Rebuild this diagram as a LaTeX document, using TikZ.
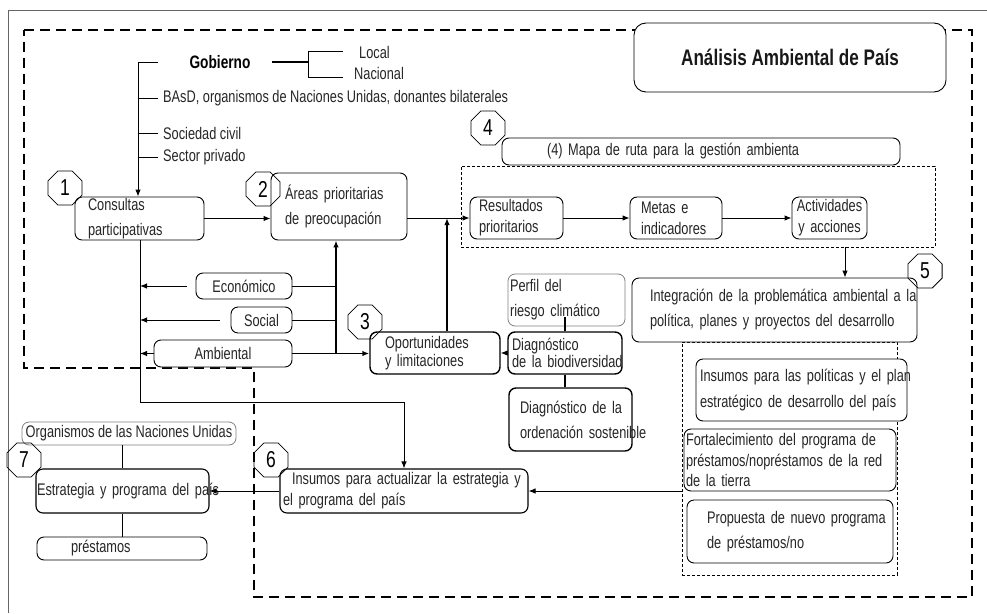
\documentclass[tikz,border=0pt]{standalone}
\usepackage{fontspec}
\setmainfont[FakeStretch=0.76]{Liberation Sans}
\usetikzlibrary{arrows.meta,shapes.geometric,calc}
\newcommand\fb[1]{\fontsize{16.8pt}{#1}\selectfont}
\begin{document}
\begin{tikzpicture}[x=1pt,y=-1pt,
  box/.style={draw=black, fill=white, line width=0.9pt, rounded corners=7pt, inner ysep=0pt, align=left, text=black!85},
  gbox/.style={box, draw=black!50, line width=0.8pt},
  tbox/.style={box, line width=1.4pt},
  oct/.style={regular polygon, regular polygon sides=8, draw, line width=0.8pt, minimum size=37pt, inner sep=0pt, font=\fontsize{23pt}{23pt}\selectfont},
  lbl/.style={inner sep=0pt, anchor=west, text=black!85, font=\fb{18pt}},
  arr/.style={line width=0.9pt, -{Latex[length=7pt,width=5.5pt]}},
  tarr/.style={line width=1.4pt, -{Latex[length=7pt,width=5.5pt]}},
  ln/.style={line width=0.9pt},
  tln/.style={line width=1.4pt},
  bigdash/.style={line width=2.8pt, dash pattern=on 10pt off 6pt},
  smalldash/.style={line width=0.8pt, dash pattern=on 3pt off 2pt},
]
\useasboundingbox (0,0) rectangle (987,613);
% outer thin frame
\draw[black!60, line width=1pt] (8,613) -- (8,10) -- (987,10);
% big dashed region
\draw[bigdash] (24,30) -- (972,30) -- (972,597) -- (254,597) -- (254,368) -- (24,368) -- cycle;

% title
\node[draw, fill=white, line width=0.9pt, rounded corners=12pt, minimum width=312pt, minimum height=69pt, font=\fontsize{22.5pt}{24pt}\selectfont\bfseries, text=black!90] (title) at (790,57.5) {Análisis Ambiental de País};

% dashed groups
\node[smalldash, draw, minimum width=474pt, minimum height=81pt, inner sep=0pt] (grp) at (698,206.5) {};
\node[smalldash, draw, minimum width=215pt, minimum height=233pt, inner sep=0pt] (rbox) at (789.5,458.5) {};

% stakeholders
\node[inner sep=0pt, font=\fontsize{18pt}{20pt}\selectfont\bfseries] (gob) at (220,62) {Gobierno};
\node[lbl] (loc) at (359,52) {Local};
\node[lbl] (nac) at (354,73) {Nacional};
\coordinate (g1) at (272,62);
\coordinate (g2) at (308,62);
\coordinate (g3) at (343,51);
\coordinate (g4) at (343,77);
\draw[tln] (g1) -- (g2);
\draw[ln] (g3) -- (g3 -| g2) -- (g4 -| g2) -- (g4);
\node[lbl] (bas) at (163,98) {BAsD, organismos de Naciones Unidas, donantes bilaterales};
\node[lbl] (soc) at (163,133) {Sociedad civil};
\node[lbl] (sec) at (163,157) {Sector privado};
\coordinate (s0) at (158,62);
\coordinate (s1) at (138,62);

% boxes
\node[box, minimum width=129pt, minimum height=43pt, text width=103pt, inner xsep=13pt, font=\fb{25pt}] (cons) at (139.5,218.5) {\mbox{Consultas}\\\mbox{participativas}};
\node[box, minimum width=136pt, minimum height=67pt, text width=108pt, inner xsep=14pt, font=\fb{25pt}] (areas) at (339,206.5) {\mbox{Áreas prioritarias}\\\mbox{de preocupación}};
\node[box, minimum width=93pt, minimum height=42pt, text width=75pt, inner xsep=9pt, font=\fb{21pt}] (res) at (516.5,218) {\mbox{Resultados}\\\mbox{prioritarios}};
\node[box, minimum width=92pt, minimum height=42pt, text width=70pt, inner xsep=11pt, font=\fb{21pt}] (metas) at (676,218) {\mbox{Metas e}\\\mbox{indicadores}};
\node[box, minimum width=75pt, minimum height=42pt, text width=67pt, inner xsep=4pt, align=center, font=\fb{21pt}] (act) at (829.5,218) {\mbox{Actividades}\\\mbox{y acciones}};
\node[box, minimum width=398pt, minimum height=27pt, text width=308pt, inner xsep=45pt, font=\fb{20pt}] (mapa) at (701,151.5) {\mbox{(4) Mapa de ruta para la gestión ambienta}};
\node[box, minimum width=285pt, minimum height=64pt, text width=249pt, inner xsep=18pt, font=\fb{25pt}] (integ) at (774.5,310) {\mbox{Integración de la problemática ambiental a la}\\\mbox{política, planes y proyectos del desarrollo}};
\node[gbox, minimum width=117pt, minimum height=52pt, text width=113pt, inner xsep=2pt, font=\fb{25pt}] (perfil) at (566.5,300) {\mbox{Perfil del}\\\mbox{riesgo climático}};
\node[tbox, minimum width=114pt, minimum height=42pt, text width=106pt, inner xsep=4pt, font=\fb{17pt}] (bio) at (565,353) {\mbox{Diagnóstico}\\\mbox{de la biodiversidad}};
\node[tbox, minimum width=123pt, minimum height=63pt, text width=101pt, inner xsep=11pt, font=\fb{25pt}] (ord) at (570.5,419.5) {\mbox{Diagnóstico de la}\\\mbox{ordenación sostenible}};
\node[tbox, minimum width=130pt, minimum height=42pt, text width=100pt, inner xsep=15pt, font=\fb{18pt}] (opp) at (435,353) {\mbox{Oportunidades}\\\mbox{y limitaciones}};
\node[box, minimum width=96pt, minimum height=26pt, align=center, font=\fb{18pt}] (eco) at (244,286) {Económico};
\node[box, minimum width=61pt, minimum height=26pt, align=center, font=\fb{18pt}] (social) at (261.5,320) {Social};
\node[box, minimum width=138pt, minimum height=27pt, align=center, font=\fb{18pt}] (amb) at (223,353.5) {Ambiental};
\node[box, line width=1.1pt, minimum width=248pt, minimum height=44pt, text width=242pt, inner xsep=3pt, font=\fb{21pt}] (ins6) at (404,491) {\mbox{\hspace*{9pt}Insumos para actualizar la estrategia y}\\\mbox{el programa del país}};
\node[box, line width=1.1pt, minimum width=173pt, minimum height=44pt, text width=171pt, inner xsep=1pt, font=\fb{20pt}] (estr) at (122.5,491) {\mbox{Estrategia y programa del país}};
\node[gbox, minimum width=214pt, minimum height=23pt, align=center, font=\fb{18pt}] (org) at (129,433.5) {Organismos de las Naciones Unidas};
\node[box, minimum width=170pt, minimum height=23pt, text width=102pt, inner xsep=34pt, font=\fb{18pt}] (prest) at (122,548.5) {préstamos};
\node[box, minimum width=211pt, minimum height=62pt, text width=203pt, inner xsep=4pt, font=\fb{26pt}] (insp) at (801.5,390) {\mbox{Insumos para las políticas y el plan}\\\mbox{estratégico de desarrollo del país}};
\node[box, minimum width=212pt, minimum height=62pt, text width=208pt, inner xsep=2pt, font=\fb{20.5pt}] (fort) at (790,460) {\mbox{Fortalecimiento del programa de}\\\mbox{préstamos/nopréstamos de la red}\\\mbox{de la tierra}};
\node[box, minimum width=206pt, minimum height=63pt, text width=166pt, inner xsep=20pt, font=\fb{25pt}] (prop) at (790,531.5) {\mbox{Propuesta de nuevo programa}\\\mbox{de préstamos/no}};

% octagons
\node[oct] (o1) at (65,188) {1};
\node[oct] (o2) at (263,189) {2};
\node[oct] (o3) at (365,322) {3};
\node[oct] (o4) at (488,128) {4};
\node[oct] (o5) at (925,271) {5};
\node[oct] (o6) at (271,460) {6};
\node[oct] (o7) at (24,460) {7};

% stakeholder spine
\draw[arr] (s0) -- (s1) -- (cons.north -| s1);
\draw[ln] (s1 |- bas.west) -- ++(20,0);
\draw[ln] (s1 |- soc.west) -- ++(20,0);
\draw[ln] (s1 |- sec.west) -- ++(20,0);

% main flow
\draw[arr] (cons.east) -- (areas.west |- cons.east);
\draw[arr] (areas.east |- res.west) -- (res.west);
\draw[arr] (res.east) -- (metas.west);
\draw[arr] (metas.east) -- (act.west);
\coordinate (gx) at (845,0);
\draw[arr] (grp.south -| gx) -- (integ.north -| gx);

% dimensions
\coordinate (vx) at (336,0);
\coordinate (sp1) at (140,402);
\coordinate (sp2) at (404,402);
\draw[ln] (eco.east) -- (eco.east -| vx);
\draw[ln] (social.east) -- (social.east -| vx);
\draw[tarr] (amb.east) -- (opp.west |- amb.east);
\draw[tarr] (vx |- amb.east) -- (vx |- areas.south);
\draw[arr] ($(eco.west)+(-9,0)$) -- (eco.west -| sp1);
\draw[arr] ($(social.west)+(-11,0)$) -- (social.west -| sp1);
\draw[arr] (amb.west) -- (amb.west -| sp1);
\draw[arr] (sp1 |- cons.south) -- (sp1) -- (sp2) -- (ins6.north);

% opportunities
\coordinate (ox) at (447,0);
\draw[tarr] (opp.north -| ox) -- (ox |- res.west);
\draw[arr] (bio.west) -- (opp.east);
\draw[tln] (bio.north) -- ++(0,-14);
\draw[tln] (bio.south) -- (bio.south |- ord.north);

% bottom flows
\draw[arr] (rbox.west |- ins6.east) -- (ins6.east);
\draw[arr] (ins6.west) -- (estr.east);
\draw[ln] (estr.north |- org.south) -- (estr.north);
\draw[ln] (estr.south) -- (estr.south |- prest.north);
\end{tikzpicture}
\end{document}
